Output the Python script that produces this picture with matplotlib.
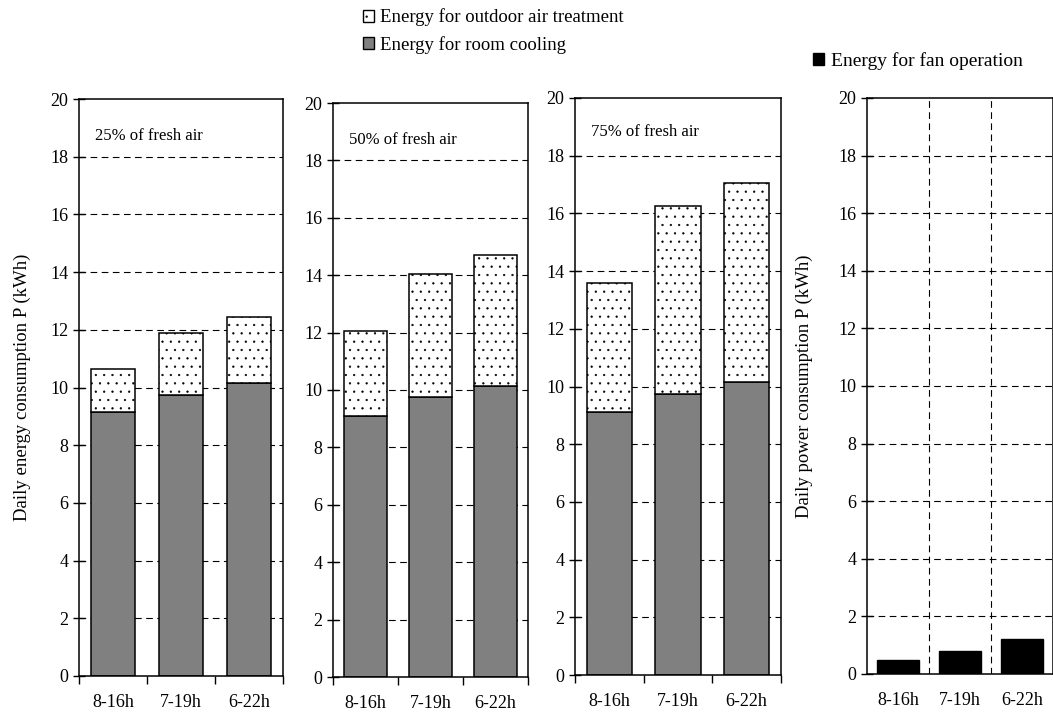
import matplotlib.pyplot as plt
from matplotlib.patches import Patch
import numpy as np

plt.rcParams['font.family'] = ['Liberation Serif', 'DejaVu Serif']
plt.rcParams['hatch.linewidth'] = 0.4

periods = ['8-16h', '7-19h', '6-22h']
fresh_air = ['25% of fresh air', '50% of fresh air', '75% of fresh air']
room_cooling = [[9.15, 9.75, 10.15],
                [9.1, 9.75, 10.15],
                [9.1, 9.75, 10.15]]
total_energy = [[10.65, 11.9, 12.45],
                [12.05, 14.05, 14.7],
                [13.6, 16.25, 17.05]]
fan_energy = [0.5, 0.8, 1.2]

W, H = 1053, 713
fig = plt.figure(figsize=(W / 100, H / 100), dpi=100)

# axes boxes in pixels: left, right, top, bottom
boxes = [(79, 283, 99, 676), (333, 528, 103, 677), (575, 781, 98, 675), (867, 1053, 98, 674)]
axes = []
for l, r, t, b in boxes:
    axes.append(fig.add_axes([l / W, 1 - b / H, (r - l) / W, (b - t) / H]))

dash = (0, (6, 4))
x = np.arange(len(periods))


def style(ax):
    ax.set_ylim(0, 20)
    ax.set_xlim(-0.5, 2.5)
    ax.set_yticks(np.arange(0, 21, 2))
    ax.set_xticks([-0.5, 0.5, 1.5, 2.5])
    ax.set_xticklabels([])
    ax.set_xticks(x, minor=True)
    ax.set_xticklabels(periods, minor=True)
    ax.tick_params(axis='y', direction='inout', length=9, width=1, labelsize=13, pad=3)
    ax.tick_params(axis='x', which='major', direction='out', length=6, width=1)
    ax.tick_params(axis='x', which='minor', length=0, labelsize=13, pad=13)
    for s in ax.spines.values():
        s.set_linewidth(1.1)
    ax.set_axisbelow(True)
    for yv in range(2, 20, 2):
        ax.axhline(yv, color='black', lw=0.8, ls=dash, zorder=0)


for i in range(3):
    ax = axes[i]
    style(ax)
    cool = np.array(room_cooling[i])
    outdoor = np.array(total_energy[i]) - cool
    ax.bar(x, cool, width=0.66, color='#808080', edgecolor='black', lw=1.1, zorder=2)
    ax.bar(x, outdoor, width=0.66, bottom=cool, color='white', edgecolor='black',
           hatch='..', lw=1.1, zorder=2)
    ax.text(0.08, 0.95 if i != 2 else 0.955, fresh_air[i], transform=ax.transAxes,
            fontsize=12, va='top', ha='left')

axes[0].set_ylabel('Daily energy consumption P (kWh)', fontsize=13.5, labelpad=14)

ax = axes[3]
style(ax)
ax.bar(x, fan_energy, width=0.68, color='black', edgecolor='black', zorder=2)
for xv in [0.5, 1.5]:
    ax.axvline(xv, color='black', lw=0.8, ls=dash, zorder=0)
ax.tick_params(axis='x', which='major', length=0)
ax.set_ylabel('Daily power consumption P (kWh)', fontsize=13.5, labelpad=18)

h1 = [Patch(facecolor='white', edgecolor='black', hatch='..', lw=1),
      Patch(facecolor='#808080', edgecolor='black', lw=1)]
fig.legend(h1, ['Energy for outdoor air treatment', 'Energy for room cooling'],
           loc='upper left', bbox_to_anchor=(355 / W, 1 - 1 / H), frameon=False,
           fontsize=13.5, handlelength=0.6, handleheight=0.6, handletextpad=0.35,
           labelspacing=0.5, borderaxespad=0)
h2 = [Patch(facecolor='black', edgecolor='black', lw=1)]
fig.legend(h2, ['Energy for fan operation'],
           loc='upper left', bbox_to_anchor=(805 / W, 1 - 44 / H), frameon=False,
           fontsize=14, handlelength=0.6, handleheight=0.6, handletextpad=0.35,
           borderaxespad=0)

fig.savefig('out.png', dpi=100)
